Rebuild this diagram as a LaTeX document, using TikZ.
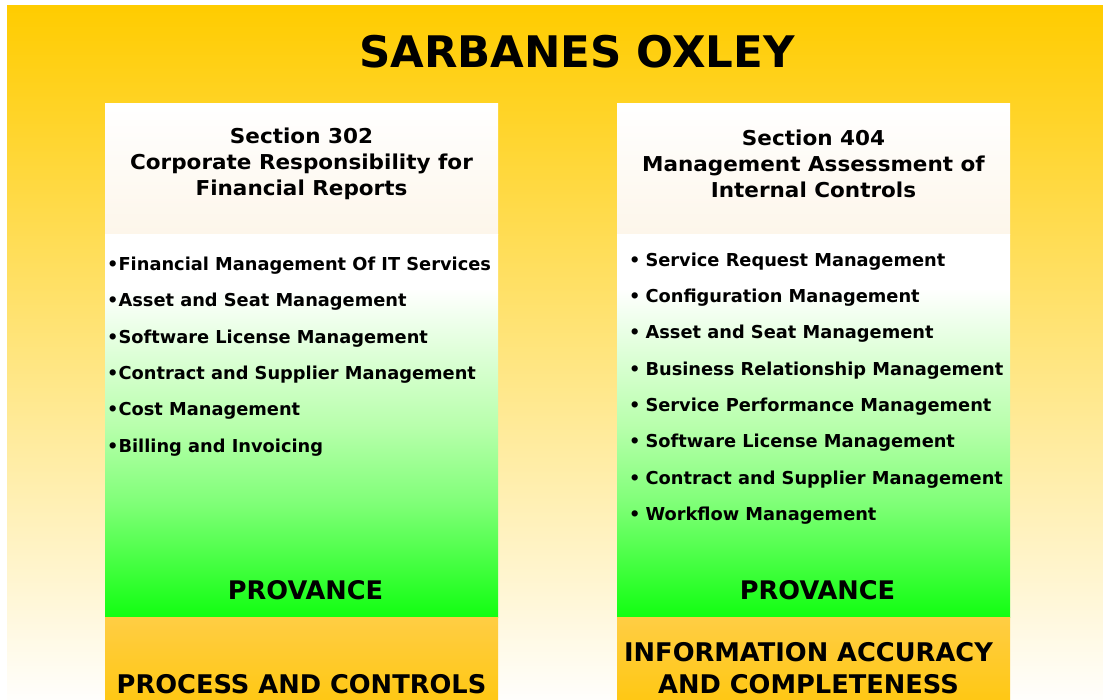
\documentclass[tikz,border=0pt]{standalone}
\usepackage{fontspec}
\setmainfont{DejaVu Sans}
\definecolor{bgtop}{HTML}{FFCC00}
\definecolor{bgmid}{HTML}{FEE2AC}
\definecolor{bgbot}{HTML}{FFFEFC}
\definecolor{hdrbot}{HTML}{FDF6EA}
\definecolor{grnA}{HTML}{D4FFCC}
\definecolor{grnB}{HTML}{B8FFAC}
\definecolor{grnC}{HTML}{80FF78}
\definecolor{grnbot}{HTML}{11FF11}
\definecolor{orgtop}{HTML}{FFCD44}
\definecolor{orgbot}{HTML}{FFC814}
\pgfdeclareverticalshading{greenfade}{100bp}{color(0bp)=(grnbot); color(25bp)=(grnbot); color(40bp)=(grnC); color(50bp)=(grnB); color(57bp)=(grnA); color(68bp)=(white); color(100bp)=(white)}
\tikzset{
  titletext/.style={font=\fontsize{43.5}{50}\selectfont\bfseries, inner sep=0pt},
  hdrtext/.style={font=\fontsize{20.5}{26}\selectfont\bfseries\addfontfeature{FakeStretch=1.05}, align=center, inner sep=0pt},
  itemtext/.style={font=\fontsize{17.8}{20}\selectfont\bfseries, anchor=west, inner sep=0pt},
  provtext/.style={font=\fontsize{25.6}{28}\selectfont\bfseries, inner sep=0pt},
  bottext/.style={font=\fontsize{25.7}{32}\selectfont\bfseries, align=center, inner sep=0pt},
  hdrpanel/.style={top color=white, bottom color=hdrbot},
  listpanel/.style={shading=greenfade},
  botpanel/.style={top color=orgtop, bottom color=orgbot},
}
\begin{document}
\begin{tikzpicture}[x=1pt,y=1pt]
\useasboundingbox (0,0) rectangle (1103,-700);
% background
\fill[top color=bgtop, middle color=bgmid, bottom color=bgbot] (7,-6) rectangle (1103,-700);
% left column panels
\fill[hdrpanel] (105,-104) rectangle (498,-235);
\fill[listpanel] (105,-235) rectangle (498,-617);
\fill[botpanel] (105,-617) rectangle (498,-700);
% right column panels
\fill[hdrpanel] (617,-104) rectangle (1010,-235);
\fill[listpanel] (617,-235) rectangle (1010,-617);
\fill[botpanel] (617,-617) rectangle (1010,-700);

\node[titletext] (title) at (577,-52) {SARBANES OXLEY};

\node[hdrtext] (hL) at (301.5,-164) {Section 302\\Corporate Responsibility for\\Financial Reports};
\node[hdrtext] (hR) at (813.5,-164) {Section 404\\Management Assessment of\\Internal Controls};

\node[itemtext] (l1) at (107,-266) {•Financial Management Of IT Services};
\node[itemtext] (l2) at (107,-302) {•Asset and Seat Management};
\node[itemtext] (l3) at (107,-338.5) {•Software License Management};
\node[itemtext] (l4) at (107,-374.5) {•Contract and Supplier Management};
\node[itemtext] (l5) at (107,-411) {•Cost Management};
\node[itemtext] (l6) at (107,-447.5) {•Billing and Invoicing};

\node[itemtext] (r1) at (629,-262) {•\hspace{5pt}Service Request Management};
\node[itemtext] (r2) at (629,-298) {•\hspace{5pt}Configuration Management};
\node[itemtext] (r3) at (629,-334) {•\hspace{5pt}Asset and Seat Management};
\node[itemtext] (r4) at (629,-370.5) {•\hspace{5pt}Business Relationship Management};
\node[itemtext] (r5) at (629,-407) {•\hspace{5pt}Service Performance Management};
\node[itemtext] (r6) at (629,-443) {•\hspace{5pt}Software License Management};
\node[itemtext] (r7) at (629,-479.5) {•\hspace{5pt}Contract and Supplier Management};
\node[itemtext] (r8) at (629,-516) {•\hspace{5pt}Workflow Management};

\node[provtext] (pL) at (305.5,-590) {PROVANCE};
\node[provtext] (pR) at (817.5,-590) {PROVANCE};

\node[bottext] (bL) at (301.5,-684) {PROCESS AND CONTROLS};
\node[bottext] (bR) at (808.5,-668) {INFORMATION ACCURACY\\AND COMPLETENESS};
\end{tikzpicture}
\end{document}
